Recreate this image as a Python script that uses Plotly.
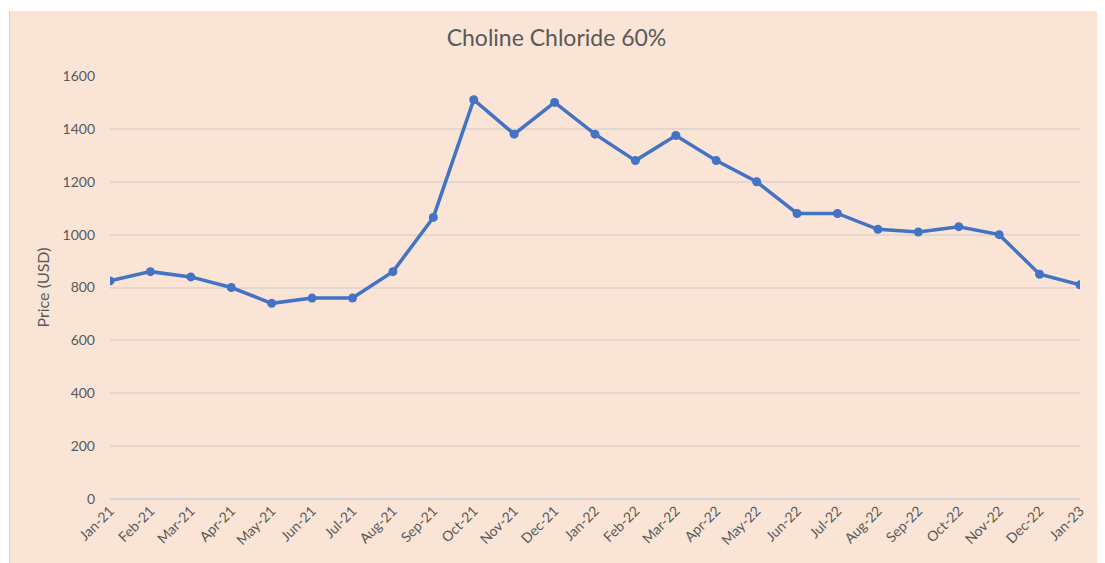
import plotly.graph_objects as go

# --- data ---
MONTHS = [
    "Jan-21", "Feb-21", "Mar-21", "Apr-21", "May-21", "Jun-21", "Jul-21",
    "Aug-21", "Sep-21", "Oct-21", "Nov-21", "Dec-21", "Jan-22", "Feb-22",
    "Mar-22", "Apr-22", "May-22", "Jun-22", "Jul-22", "Aug-22", "Sep-22",
    "Oct-22", "Nov-22", "Dec-22", "Jan-23",
]
PRICE_USD = [
    825, 860, 840, 800, 740, 760, 760,
    860, 1065, 1510, 1380, 1500, 1380, 1280,
    1375, 1280, 1200, 1080, 1080, 1020, 1010,
    1030, 1000, 850, 810,
]

PEACH = "#FAE4D6"
TEXT = "#595959"
LINE = "#4472C4"
FONT = "Lato, 'Open Sans', sans-serif"

# the page body has an 8px margin, so the figure sits at (8, 8)
OFF = 8
W, H = 1105 - OFF, 563 - OFF
# plot area on the page: x 110..1080, y 76..499
L, T = 110 - OFF, 76 - OFF
R, B = 1105 - 1080, 563 - 499
pw, ph = W - L - R, H - T - B


def px_x(page_x):
    return (page_x - OFF - L) / pw


def px_y(page_y):
    return (T + ph - (page_y - OFF)) / ph


fig = go.Figure(
    go.Scatter(
        x=MONTHS,
        y=PRICE_USD,
        mode="lines+markers",
        line=dict(color=LINE, width=3.5),
        marker=dict(color=LINE, size=9),
        showlegend=False,
    )
)

# peach chart area (the white strip top/left belongs to the page)
fig.add_shape(
    type="rect", xref="paper", yref="paper", layer="below",
    x0=px_x(10), x1=px_x(1110), y0=px_y(570), y1=px_y(11),
    fillcolor=PEACH, line=dict(width=0),
)
fig.add_shape(
    type="line", xref="paper", yref="paper",
    x0=px_x(9.5), x1=px_x(9.5), y0=px_y(570), y1=px_y(11),
    line=dict(color="#D0D0D0", width=1),
)

fig.update_layout(
    width=W,
    height=H,
    margin=dict(l=L, r=R, t=T, b=B),
    paper_bgcolor="white",
    plot_bgcolor="rgba(0,0,0,0)",
    font=dict(family=FONT, color=TEXT, size=14),
    title=dict(
        text="Choline Chloride 60%",
        x=0.5, xanchor="center",
        y=1 - (38 - OFF) / H, yanchor="middle",
        font=dict(size=23, color=TEXT),
    ),
    xaxis=dict(
        range=[0, len(MONTHS) - 1],
        tickangle=-45,
        showgrid=False,
        showline=False,
        zeroline=False,
        tickfont=dict(size=14, color=TEXT),
    ),
    yaxis=dict(
        range=[0, 1600],
        dtick=200,
        gridcolor="#E3D8D0",
        gridwidth=1.5,
        zeroline=True,
        zerolinecolor="#D6D6D9",
        zerolinewidth=1.5,
        showline=False,
        ticklabelstandoff=14,
        tickfont=dict(size=14, color=TEXT),
        title=dict(text="Price (USD)", font=dict(size=16, color=TEXT), standoff=8),
    ),
)

fig.write_html("out.html")
